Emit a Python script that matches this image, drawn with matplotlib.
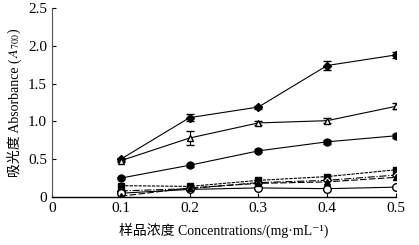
import matplotlib
matplotlib.use("Agg")
import matplotlib.pyplot as plt

plt.rcParams['font.family'] = ['Liberation Serif', 'Noto Sans CJK SC', 'DejaVu Serif']
plt.rcParams['mathtext.fontset'] = 'stix'

conc = [0.1, 0.2, 0.3, 0.4, 0.5]
s_diamond = [0.50, 1.05, 1.19, 1.74, 1.88]
e_diamond = [0.02, 0.05, 0.02, 0.06, 0.04]
s_tri_open = [0.48, 0.78, 0.98, 1.01, 1.20]
e_tri_open = [0.02, 0.09, 0.03, 0.03, 0.04]
s_circle = [0.25, 0.42, 0.61, 0.73, 0.81]
e_circle = [0.01, 0.02, 0.02, 0.03, 0.03]
s_square = [0.15, 0.14, 0.22, 0.27, 0.36]
s_diam_open = [0.08, 0.11, 0.19, 0.22, 0.29]
s_circ_open = [0.05, 0.10, 0.12, 0.11, 0.13]
s_tri_fill = [0.01, 0.12, 0.18, 0.20, 0.26]

fig = plt.figure(figsize=(4.19, 2.45), dpi=100)
ax = fig.add_axes([0.124, 0.196, 0.821, 0.771])

ax.errorbar(conc, s_diamond, yerr=e_diamond, marker='D', ms=4, color='black', lw=0.8, capsize=3, elinewidth=0.8)
ax.errorbar(conc, s_tri_open, yerr=e_tri_open, marker='^', ms=5, color='black', mfc='white', lw=0.8, capsize=3, elinewidth=0.8)
ax.errorbar(conc, s_circle, yerr=e_circle, marker='o', ms=5, color='black', lw=0.8, capsize=3, elinewidth=0.8)
ax.plot(conc, s_square, marker='s', ms=4.5, color='black', lw=0.8, ls=(0, (3, 1)))
ax.plot(conc, s_diam_open, marker='D', ms=4, color='black', mfc='white', lw=0.8, ls='-.')
ax.plot(conc, s_circ_open, marker='o', ms=5.5, color='black', mfc='white', lw=0.8, ls='-')
ax.plot(conc, s_tri_fill, marker='^', ms=4.5, color='black', lw=0.8, ls=(0, (6, 2)))

ax.set_xlim(0, 0.5)
ax.set_ylim(0, 2.5)
ax.set_xticks([0, 0.1, 0.2, 0.3, 0.4, 0.5])
ax.set_xticklabels(['0', '0.1', '0.2', '0.3', '0.4', '0.5'])
ax.set_yticks([0, 0.5, 1.0, 1.5, 2.0, 2.5])
ax.set_yticklabels(['0', '0.5', '1.0', '1.5', '2.0', '2.5'])
ax.tick_params(direction='in', labelsize=11, length=3, width=0.8)
for s in ['top', 'right']:
    ax.spines[s].set_visible(False)
ax.spines['left'].set_color('#555555')
ax.spines['bottom'].set_linewidth(1.0)

ax.set_xlabel('样品浓度 Concentrations/(mg·mL⁻¹)', fontsize=10, labelpad=6)

# y label in two pieces (CJK text + math)
t1 = fig.text(0.035, 0.5, '吸光度 Absorbance (', rotation=90, fontsize=10, ha='center', va='bottom')
t2 = fig.text(0.035, 0.5, '$A_{700}$)', rotation=90, fontsize=10, ha='center', va='bottom')
fig.canvas.draw()
r = fig.canvas.get_renderer()
h1 = t1.get_window_extent(r).height / fig.bbox.height
h2 = t2.get_window_extent(r).height / fig.bbox.height
yc = 0.196 + 0.771 / 2
y0 = yc - (h1 + h2) / 2
t1.set_y(y0)
t2.set_y(y0 + h1)

fig.savefig('out.png', dpi=100)
